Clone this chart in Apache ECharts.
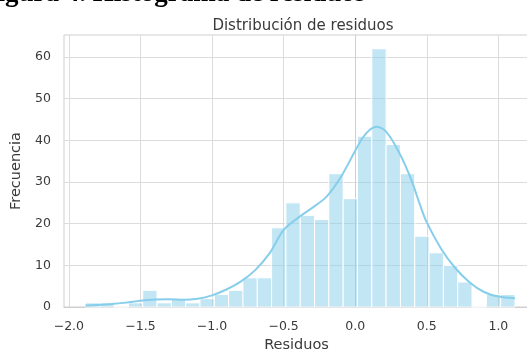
<!DOCTYPE html>
<html>
<head>
<meta charset="utf-8">
<script src="https://cdn.jsdelivr.net/npm/echarts@6/dist/echarts.min.js"></script>
<style>
html,body{margin:0;padding:0;background:#fff;}
#main{width:527px;height:352px;}
</style>
</head>
<body>
<div id="main"></div>
<script>
// Histogram bin edges (residual values)
var binEdges = [-1.884, -1.784, -1.684, -1.584, -1.484, -1.384, -1.284, -1.184, -1.084, -0.984,
  -0.884, -0.784, -0.684, -0.584, -0.484, -0.384, -0.284, -0.184, -0.084, 0.016,
  0.116, 0.216, 0.316, 0.416, 0.516, 0.616, 0.716, 0.816, 0.916, 1.016, 1.116];
// Counts per bin
var binCounts = [1, 1, 0, 1, 4, 1, 2, 1, 2, 3,
  4, 7, 7, 19, 25, 22, 21, 32, 26, 41,
  62, 39, 32, 17, 13, 10, 6, 0, 3, 3];
// KDE curve (scaled to counts)
var kdeX = [-1.884, -1.8, -1.7, -1.6, -1.5, -1.4, -1.3, -1.2, -1.1, -1.0,
  -0.9, -0.8, -0.7, -0.6, -0.5, -0.4, -0.3, -0.2, -0.1, 0.0,
  0.05, 0.1, 0.15, 0.2, 0.25, 0.3, 0.35, 0.4, 0.45, 0.5,
  0.6, 0.7, 0.8, 0.9, 1.0, 1.116];
var kdeY = [0.35, 0.5, 0.7, 1.05, 1.5, 1.8, 1.85, 1.75, 2.0, 2.8,
  4.2, 6.1, 8.8, 12.8, 18.5, 21.4, 23.8, 26.5, 31.2, 37.5,
  40.5, 42.5, 43.3, 42.6, 40.5, 37.5, 34.0, 29.8, 24.8, 20.3,
  14.0, 9.3, 5.9, 3.6, 2.5, 2.1];
var xTicks = [-2.0, -1.5, -1.0, -0.5, 0.0, 0.5, 1.0];
var yTicks = [0, 10, 20, 30, 40, 50, 60];

var histData = binCounts.map(function (c, i) { return [binEdges[i], binEdges[i + 1], c]; });
var kdeData = kdeX.map(function (x, i) { return [x, kdeY[i]]; });

var chart = echarts.init(document.getElementById('main'));
var fontFam = 'DejaVu Sans';
chart.setOption({
  animation: false,
  backgroundColor: '#ffffff',
  title: [{
    text: 'Figura 4. Histograma de residuos',
    left: -24, top: -24,
    textStyle: { fontFamily: 'Liberation Serif', fontWeight: 'bold', fontSize: 27, color: '#000' }
  }, {
    text: 'Distribución de residuos',
    left: 298, top: 14, textAlign: 'center',
    textStyle: { fontFamily: fontFam, fontWeight: 'normal', fontSize: 15, color: '#3a3a3a' }
  }],
  grid: { left: 64, right: -2, top: 35, bottom: 45, show: true, borderColor: '#cfcfcf', borderWidth: 1,
    containLabel: false, outerBoundsMode: 'none' },
  xAxis: {
    type: 'value', min: -2.034, max: 1.214,
    name: 'Residuos', nameLocation: 'middle', nameGap: 28,
    nameTextStyle: { fontFamily: fontFam, fontSize: 14.5, color: '#3a3a3a' },
    axisLine: { show: true, lineStyle: { color: '#cfcfcf' } },
    axisTick: { show: false, customValues: xTicks },
    axisLabel: { customValues: xTicks, margin: 13, fontFamily: fontFam, fontSize: 12.5, color: '#3a3a3a',
      formatter: function (v) { return v.toFixed(1).replace('-', '\u2212'); } },
    splitLine: { show: true, lineStyle: { color: '#dcdcdc', width: 1 } }
  },
  yAxis: {
    type: 'value', min: 0, max: 65.3,
    name: 'Frecuencia', nameLocation: 'middle', nameGap: 40, nameRotate: 90,
    nameTextStyle: { fontFamily: fontFam, fontSize: 14.5, color: '#3a3a3a' },
    axisLine: { show: true, lineStyle: { color: '#cfcfcf' } },
    axisTick: { show: false, customValues: yTicks },
    axisLabel: { customValues: yTicks, margin: 13, fontFamily: fontFam, fontSize: 12.5, color: '#3a3a3a' },
    splitLine: { show: true, lineStyle: { color: '#dcdcdc', width: 1 } }
  },
  series: [{
    type: 'custom',
    data: histData,
    encode: { x: [0, 1], y: 2 },
    renderItem: function (params, api) {
      var p0 = api.coord([api.value(0), api.value(2)]);
      var p1 = api.coord([api.value(1), 0]);
      return {
        type: 'rect',
        shape: { x: p0[0], y: p0[1], width: p1[0] - p0[0], height: p1[1] - p0[1] },
        style: { fill: 'rgba(135,206,235,0.5)', stroke: '#ffffff', lineWidth: 1 }
      };
    },
    z: 2
  }, {
    type: 'line',
    data: kdeData,
    smooth: 0.3,
    showSymbol: false,
    lineStyle: { color: '#87ceeb', width: 2 },
    z: 3
  }]
});
</script>
</body>
</html>
